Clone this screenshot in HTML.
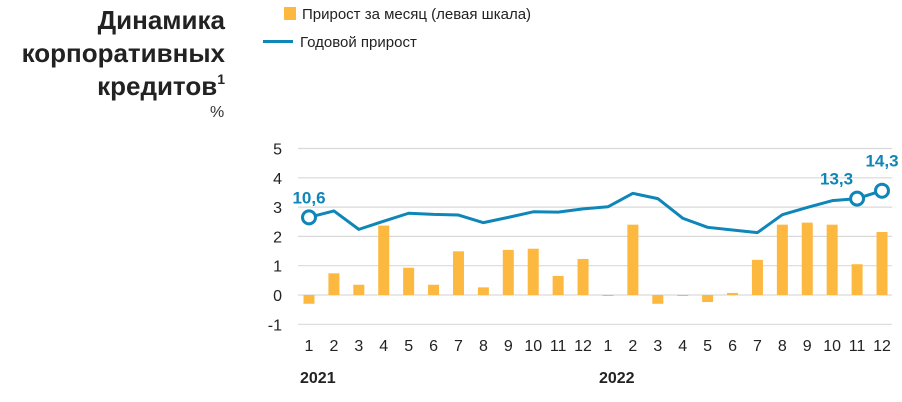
<!DOCTYPE html>
<html><head><meta charset="utf-8"><style>
body{margin:0;background:#fff;width:902px;height:402px;overflow:hidden;font-family:"Liberation Sans",sans-serif}
.t{position:absolute;right:677px;font-weight:bold;font-size:26px;color:#222;text-align:right;line-height:33px}
</style></head><body>
<div class="t" style="top:4px;white-space:nowrap">Динамика<br>корпоративных<br>кредитов<span style="font-size:14px;position:relative;top:-11px;line-height:0">1</span></div>
<div style="position:absolute;left:210px;top:104px;font-size:16px;color:#333">%</div>
<div style="position:absolute;left:284px;top:6px;font-size:15px;color:#222"><span style="display:inline-block;width:12px;height:13px;background:#fdb83f;vertical-align:-1px;margin-right:6px"></span>Прирост за месяц (левая шкала)</div>
<div style="position:absolute;left:263px;top:34px;font-size:15px;color:#222"><span style="display:inline-block;width:30px;height:3px;background:#0f86b8;vertical-align:4px;margin-right:7px"></span>Годовой прирост</div>
<svg id="c" width="902" height="402" style="position:absolute;left:0;top:0"></svg>
<script>
const months=["1","2","3","4","5","6","7","8","9","10","11","12","1","2","3","4","5","6","7","8","9","10","11","12"];
const years=["2021","2022"];
const monthly=[-0.3,0.74,0.35,2.37,0.93,0.35,1.49,0.26,1.54,1.58,0.65,1.23,-0.03,2.4,-0.3,-0.02,-0.24,0.07,1.2,2.4,2.47,2.4,1.05,2.15];
const annual=[2.65,2.87,2.24,2.52,2.79,2.75,2.73,2.47,2.65,2.84,2.83,2.94,3.01,3.47,3.29,2.62,2.31,2.22,2.13,2.74,2.99,3.22,3.29,3.56];
const yTicks=[5,4,3,2,1,0,-1];
const callouts=[{i:0,t:"10,6"},{i:22,t:"13,3"},{i:23,t:"14,3"}];
const NS="http://www.w3.org/2000/svg",svg=document.getElementById('c');
const x=i=>309+i*(882-309)/23, y=v=>295-v*29.3;
function mk(t,a){const e=document.createElementNS(NS,t);for(const k in a)e.setAttribute(k,a[k]);svg.appendChild(e);return e;}
yTicks.forEach(v=>{
 const g=mk('line',{x1:298,x2:892,y1:y(v),y2:y(v),stroke:'#d9d9d9','stroke-width':1.2});
 
 
 const t=mk('text',{x:282,y:y(v)+6,'text-anchor':'end','font-size':16,fill:'#222'});t.textContent=v;
 
 
});
monthly.forEach((v,i)=>{
 const r=mk('rect',{x:x(i)-5.5,width:11,y:Math.min(y(v),y(0)),height:Math.max(Math.abs(y(v)-y(0)),1),fill:'#fdb83f'});
 
 
});
const p=mk('polyline',{points:annual.map((v,i)=>x(i)+','+y(v)).join(' '),fill:'none',stroke:'#0f86b8','stroke-width':3,'stroke-linejoin':'round'});


callouts.forEach(c=>{
 const m=mk('circle',{cx:x(c.i),cy:y(annual[c.i]),r:6.5,fill:'#fff',stroke:'#0f86b8','stroke-width':3});
 
 
 const t=mk('text',{x:x(c.i)+(c.i===22?-4:0),y:y(annual[c.i])-14-(c.i===23?10:0),'text-anchor':c.i===22?'end':'middle','font-size':17,'font-weight':'bold',fill:'#0f86b8'});
 t.textContent=c.t;
 
 
});
months.forEach((m,i)=>{
 const t=mk('text',{x:x(i),y:351,'text-anchor':'middle','font-size':16,fill:'#222'});t.textContent=m;
 
 
});
years.forEach((yr,k)=>{
 const t=mk('text',{x:x(k*12)-9,y:383,'font-size':16,'font-weight':'bold',fill:'#222'});t.textContent=yr;
 
 
});
</script>
</body></html>
